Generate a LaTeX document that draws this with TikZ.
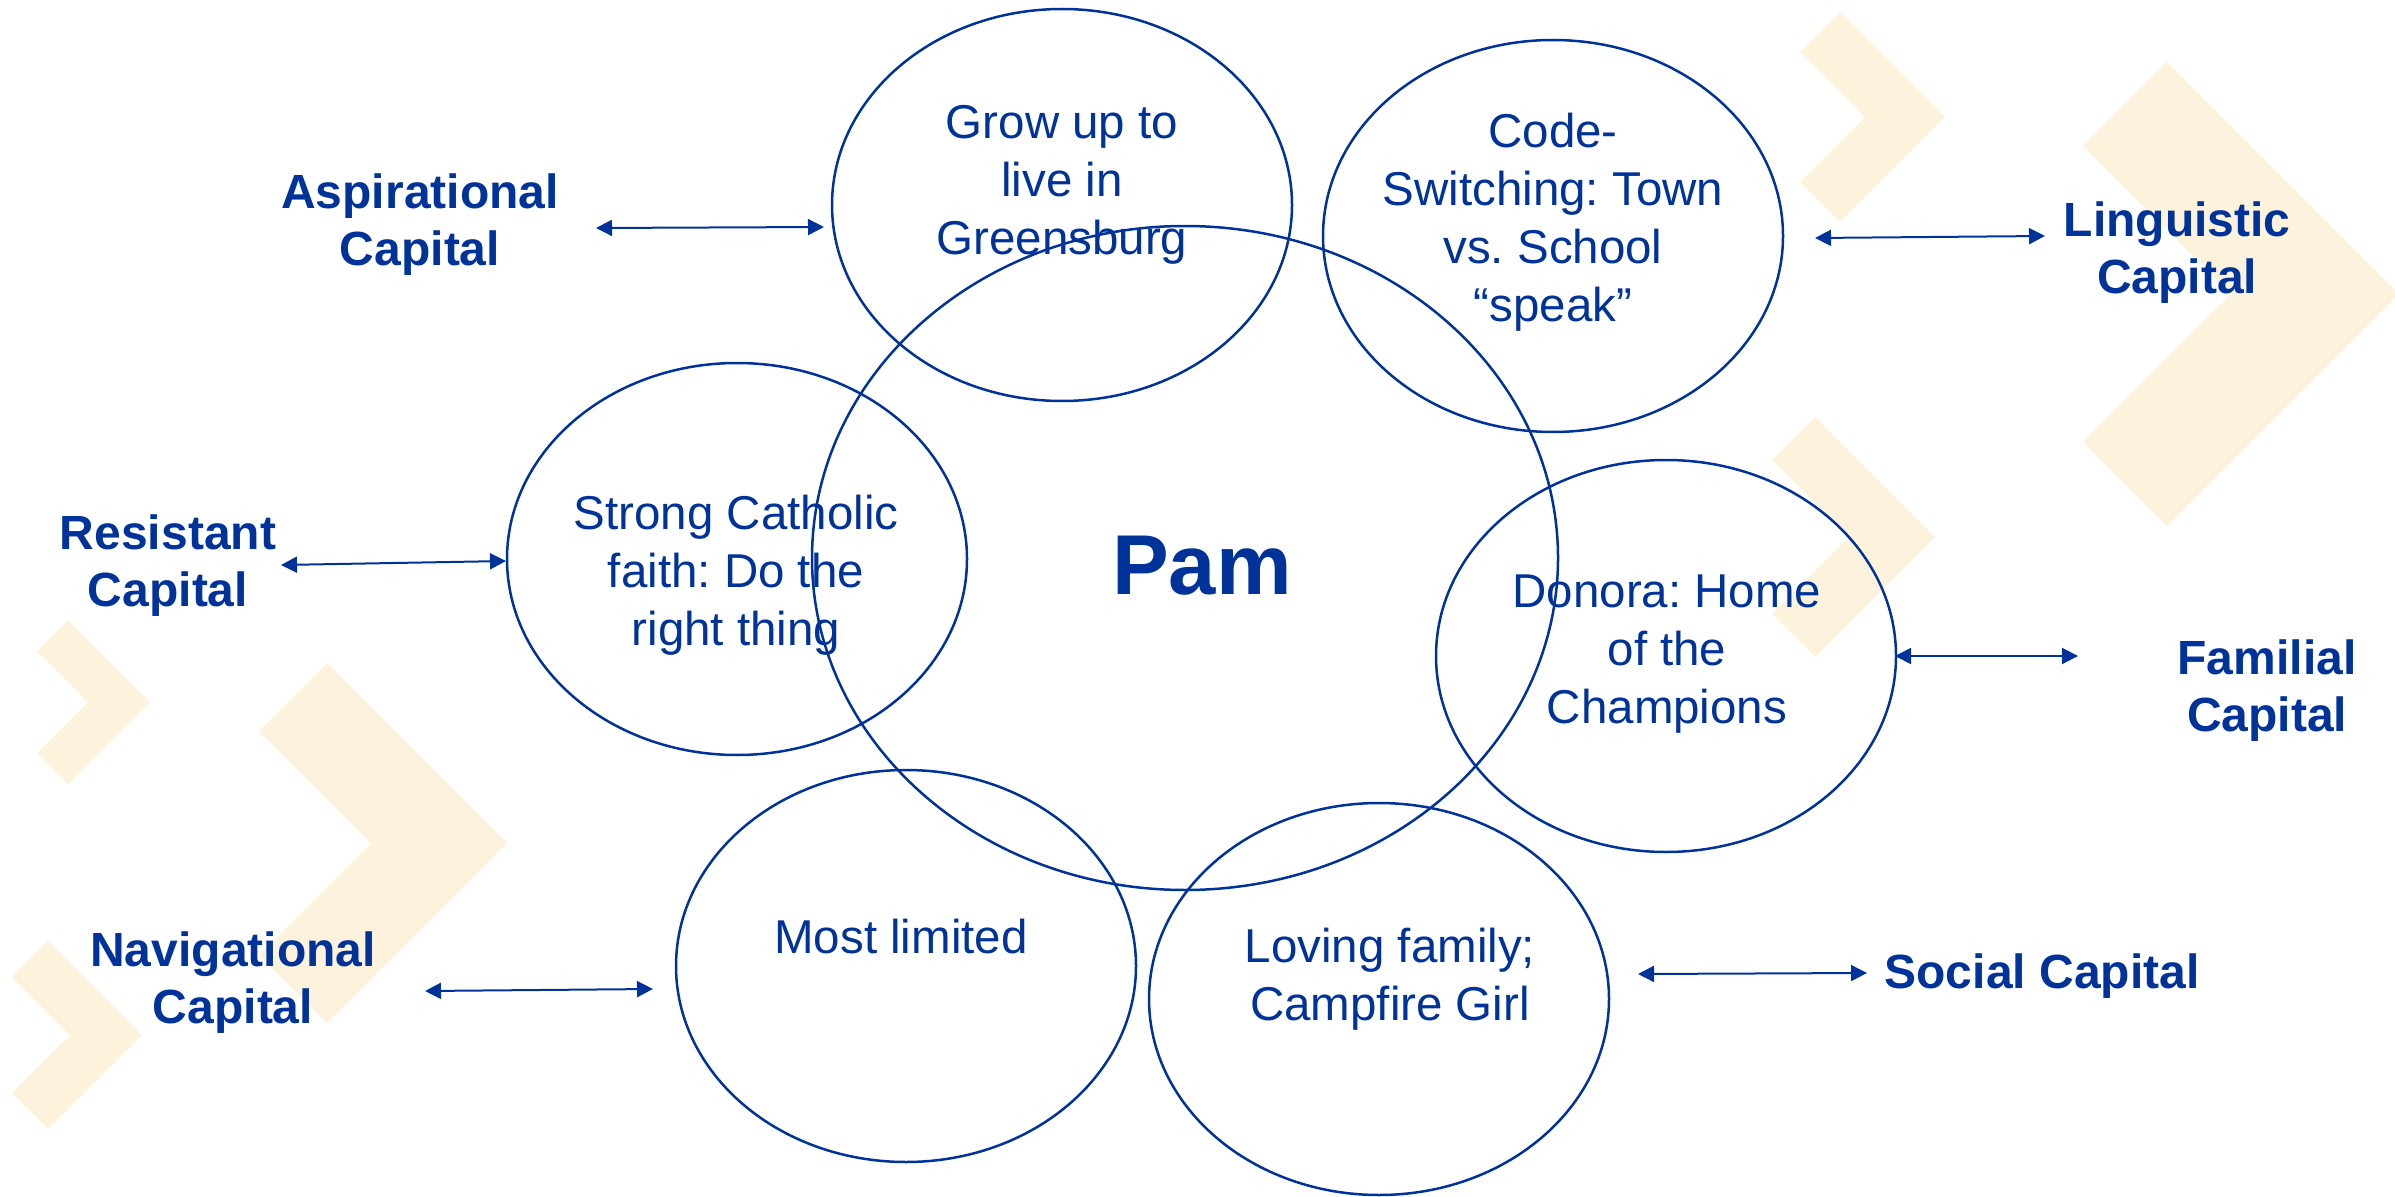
\documentclass[tikz,border=0pt]{standalone}
\usepackage{fontspec}
\setmainfont{Liberation Sans}
\usetikzlibrary{shapes.geometric,arrows.meta}
\definecolor{navy}{RGB}{0,51,153}
\definecolor{cream}{RGB}{253,242,220}
\newcommand\mychevron[4]{%
  \fill[chevfill] ({#1-#3},{#2-#3}) -- (#1,#2) -- ({#1-#3},{#2+#3})
    -- ({#1-#3-#4},{#2+#3-#4}) -- ({#1-2*#4},#2) -- ({#1-#3-#4},{#2-#3+#4}) -- cycle;}
\frenchspacing
\begin{document}
\begin{tikzpicture}[x=0.3pt,y=-0.3pt,
  chevfill/.style={fill=cream,draw=none},
  bubble/.style={ellipse,draw=navy,line width=0.75pt,inner sep=0pt,
    minimum width=138pt,minimum height=117.6pt},
  bigbubble/.style={bubble,minimum width=223.8pt,minimum height=199.2pt},
  bubbletext/.style={text=navy,font=\fontsize{14.25}{17.4}\selectfont,align=center,inner sep=0pt},
  captext/.style={text=navy,font=\fontsize{14.4}{17.1}\selectfont\bfseries,align=center,inner sep=0pt},
  pamtext/.style={text=navy,font=\fontsize{25.5}{30}\selectfont\bfseries,inner sep=0pt},
  link/.style={draw=navy,line width=0.6pt,{Triangle[length=4.8pt,width=4.8pt]}-{Triangle[length=4.8pt,width=4.8pt]}}]
\useasboundingbox (0,0) rectangle (2395,1197);
\fill[white] (0,0) rectangle (2395,1197);
% background chevrons
\mychevron{1945}{117}{105}{40}
\mychevron{2399}{294}{232}{84}
\mychevron{1935}{537}{120}{43}
\mychevron{150}{702}{82}{31}
\mychevron{507}{843}{180}{68}
\mychevron{142}{1035}{94}{36}
% ellipses
\node[bubble] (grow) at (1062,205) {};
\node[bubble] (code) at (1553,236) {};
\node[bubble] (cath) at (737,559) {};
\node[bigbubble] (pam) at (1185,558) {};
\node[bubble] (don) at (1666,656) {};
\node[bubble] (most) at (906,966) {};
\node[bubble] (love) at (1379,999) {};
% ellipse texts
\node[bubbletext] (tgrow) at (1062,185) {Grow up to\\live in\\Greensburg};
\node[bubbletext] (tcode) at (1553,222) {Code-\\Switching: Town\\vs. School\\“speak”};
\node[bubbletext] (tcath) at (736,575) {Strong Catholic\\faith: Do the\\right thing};
\node[pamtext] (tpam) at (1202,566) {Pam};
\node[bubbletext] (tdon) at (1667,654) {Donora: Home\\of the\\Champions};
\node[bubbletext] (tmost) at (901,937) {Most limited};
\node[bubbletext] (tlove) at (1390,979) {Loving family;\\Campfire Girl};
% capital labels
\node[captext] (lasp) at (420,225) {Aspirational\\Capital};
\node[captext] (lling) at (2177,253) {Linguistic\\Capital};
\node[captext] (lres) at (168,566) {Resistant\\Capital};
\node[captext] (lfam) at (2267,691) {Familial\\Capital};
\node[captext] (lnav) at (233,983) {Navigational\\Capital};
\node[captext] (lsoc) at (2042,976) {Social Capital};
% arrow ends
\coordinate (aAspL) at (596,228);
\coordinate (aAspR) at (824,227);
\coordinate (aLingL) at (1815,238);
\coordinate (aLingR) at (2045,236);
\coordinate (aResL) at (281,565);
\coordinate (aResR) at (506,561);
\coordinate (aFamL) at (1895,656);
\coordinate (aFamR) at (2078,656);
\coordinate (aNavL) at (425,991);
\coordinate (aNavR) at (653,989);
\coordinate (aSocL) at (1638,974);
\coordinate (aSocR) at (1867,973);
\draw[link] (aAspL) -- (aAspR);
\draw[link] (aLingL) -- (aLingR);
\draw[link] (aResL) -- (aResR);
\draw[link] (aFamL) -- (aFamR);
\draw[link] (aNavL) -- (aNavR);
\draw[link] (aSocL) -- (aSocR);
\end{tikzpicture}
\end{document}
